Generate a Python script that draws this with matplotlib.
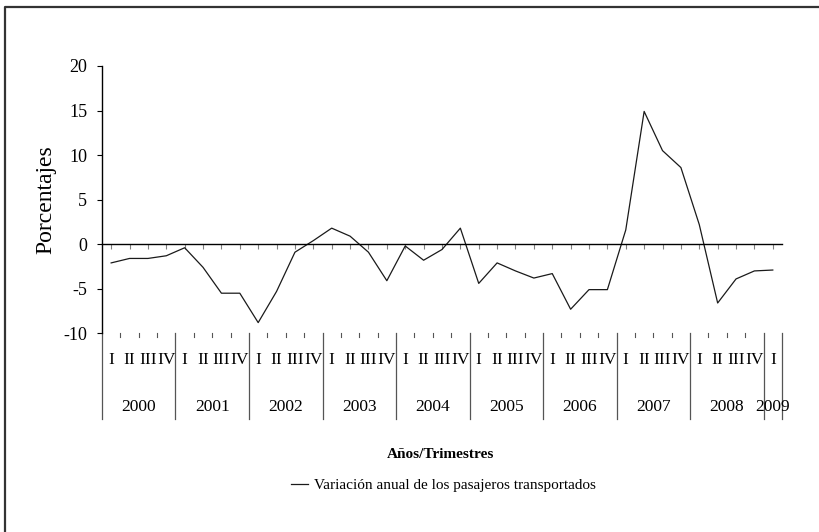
#Importing libraries
import matplotlib.pyplot as plt
from matplotlib.lines import Line2D

plt.rcParams['font.family'] = ['Liberation Serif', 'DejaVu Serif']
plt.rcParams['axes.unicode_minus'] = False

# Data (percent, 2000-I to 2009-I)
years = ['2000', '2001', '2002', '2003', '2004', '2005', '2006', '2007', '2008', '2009']
quarters = ['I', 'II', 'III', 'IV']
variacion = [-2.1, -1.6, -1.6, -1.3,
             -0.4, -2.6, -5.5, -5.5,
             -8.8, -5.3, -0.9, 0.4,
             1.8, 0.9, -0.9, -4.1,
             -0.2, -1.8, -0.6, 1.8,
             -4.4, -2.1, -3.0, -3.8,
             -3.3, -7.3, -5.1, -5.1,
             1.6, 14.9, 10.5, 8.6,
             2.2, -6.6, -3.9, -3.0,
             -2.9]
y_ticks = [-10, -5, 0, 5, 10, 15, 20]


def lineChart(values):
    """
        Draw the quarterly line chart with a two level category axis
        (quarters and years) under the plot, Excel style.

        Parameters:
        - values (list): yearly variation for each quarter.

        Returns:
        - fig (Figure)
    """
    fig = plt.figure(figsize=(8.19, 5.32), dpi=100)
    ax = fig.add_axes([0.1245, 0.3735, 0.8303, 0.5025])

    n = len(values)
    centers = [i + 0.5 for i in range(n)]
    ax.plot(centers, values, color='#1a1a1a', lw=0.9,
            label='Variación anual de los pasajeros transportados')

    ax.set_xlim(0, n)
    ax.set_ylim(y_ticks[0], y_ticks[-1])
    ax.set_yticks(y_ticks)
    ax.tick_params(axis='y', direction='out', length=3.6, width=0.8,
                   pad=7, labelsize=13)

    # category axis crosses at zero
    ax.spines['bottom'].set_position(('data', 0))
    ax.spines['bottom'].set_linewidth(1.0)
    ax.spines['left'].set_linewidth(1.0)
    ax.spines['top'].set_visible(False)
    ax.spines['right'].set_visible(False)
    ax.set_xticks(centers)
    ax.set_xticklabels([])
    ax.tick_params(axis='x', direction='out', length=3.6, width=0.8,
                   color='#808080')

    # multi level labels below the plot
    trans = ax.get_xaxis_transform()
    for i in range(1, n):
        if i % 4 != 0:
            ax.plot([i, i], [0, -0.015], transform=trans, color='#555555',
                    lw=0.8, clip_on=False)
    year_edges = list(range(0, n, 4)) + [n]
    for x in year_edges:
        ax.plot([x, x], [0, -0.322], transform=trans, color='#555555',
                lw=0.9, clip_on=False)
    for i in range(n):
        ax.text(centers[i], -0.1, quarters[i % 4], transform=trans,
                ha='center', va='center', fontsize=12.5)
    for k, year in enumerate(years):
        start = year_edges[k]
        end = year_edges[k + 1]
        ax.text((start + end) / 2, -0.276, year, transform=trans,
                ha='center', va='center', fontsize=12.5)

    ax.set_ylabel('Porcentajes', fontsize=17, labelpad=5)
    fig.text(0.538, 0.145, 'Años/Trimestres', ha='center', va='center',
             fontsize=11, fontweight='bold')
    fig.legend(loc='center', bbox_to_anchor=(0.5415, 0.088), frameon=False,
               fontsize=11, handlelength=1.1, handletextpad=0.4)

    # frame of the chart area (only top and left are inside the picture)
    fig.add_artist(Line2D([5 / 819, 5 / 819, 1.0], [0.0, 1 - 7 / 532, 1 - 7 / 532],
                          transform=fig.transFigure, color='#333333', lw=1.6))
    return fig


fig = lineChart(variacion)
fig.savefig('out.png', dpi=100)
